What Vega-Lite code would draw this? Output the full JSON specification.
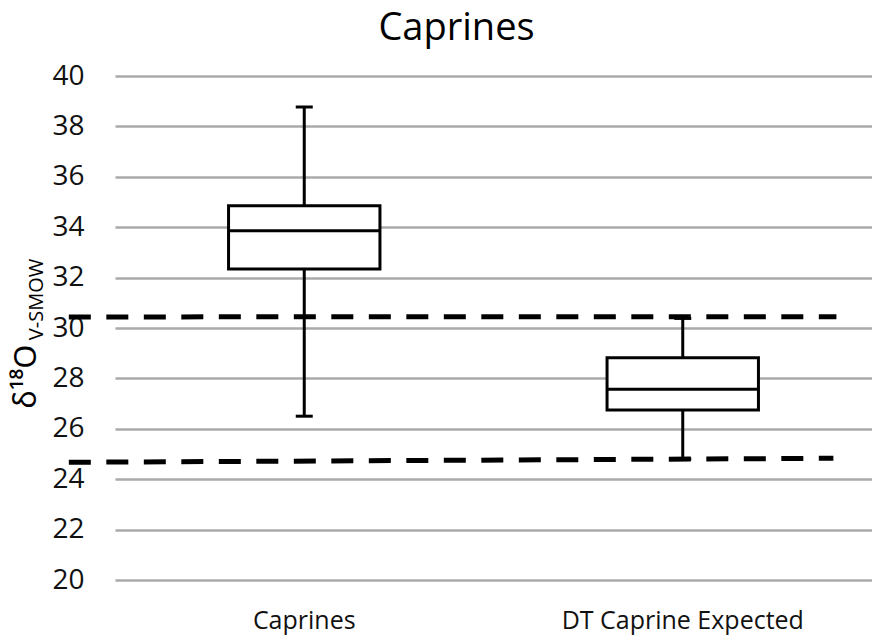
{
  "$schema": "https://vega.github.io/schema/vega-lite/v6.json",
  "autosize": "none",
  "width": 757,
  "height": 504,
  "padding": {"left": 115, "top": 76, "right": 0, "bottom": 57},
  "background": "white",
  "title": {"text": "Caprines", "font": "Open Sans", "fontSize": 38, "fontWeight": "normal", "color": "#000000", "anchor": "middle", "frame": "group", "baseline": "alphabetic", "offset": 36, "dx": -37, "dy": 52},
  "config": {"view": {"stroke": null}, "font": "Open Sans"},
  "layer": [
    {
      "data": {"values": [
        {"group": "Caprines", "lower": 26.5, "q1": 32.34, "median": 33.86, "q3": 34.85, "upper": 38.77},
        {"group": "DT Caprine Expected", "lower": 24.8, "q1": 26.75, "median": 27.57, "q3": 28.82, "upper": 30.38}
      ]},
      "encoding": {
        "x": {"field": "group", "type": "nominal", "sort": null, "scale": {"paddingInner": 0, "paddingOuter": 0},
          "axis": {"title": null, "labelFont": "Open Sans", "labelFontSize": 25, "labelColor": "#111111", "labelAngle": 0, "labelBaseline": "alphabetic", "labelPadding": 48, "labelLimit": 0, "ticks": false, "domain": false, "grid": false}}
      },
      "layer": [
        {"mark": {"type": "rule", "color": "black", "strokeWidth": 3},
         "encoding": {
           "y": {"field": "lower", "type": "quantitative", "title": "δ¹⁸O", "scale": {"domain": [20, 40], "nice": false, "zero": false},
             "axis": {"title": "δ¹⁸O", "titleFont": "Noto Sans", "titleFontSize": 31, "titleFontWeight": "normal", "titleColor": "#000000", "titleAngle": -90, "titleAlign": "center", "titleBaseline": "alphabetic", "titleX": -80, "titleY": 300,
               "values": [20, 22, 24, 26, 28, 30, 32, 34, 36, 38, 40], "labelFont": "Open Sans", "labelFontSize": 28, "labelColor": "#111111", "labelPadding": 31, "ticks": false, "domain": false, "grid": true, "gridColor": "#aaaaaa", "gridWidth": 2.5}},
           "y2": {"field": "upper"}
         }},
        {"mark": {"type": "bar", "fill": "white", "stroke": "black", "strokeWidth": 3, "width": {"band": 0.4}},
         "encoding": {"y": {"field": "q1", "type": "quantitative", "title": "δ¹⁸O"}, "y2": {"field": "q3"}}},
        {"mark": {"type": "tick", "color": "black", "size": 152, "thickness": 3, "opacity": 1},
         "encoding": {"y": {"field": "median", "type": "quantitative", "title": "δ¹⁸O"}}},
        {"mark": {"type": "tick", "color": "black", "size": 17, "thickness": 3, "opacity": 1},
         "encoding": {"y": {"field": "lower", "type": "quantitative", "title": "δ¹⁸O"}}},
        {"mark": {"type": "tick", "color": "black", "size": 17, "thickness": 3, "opacity": 1},
         "encoding": {"y": {"field": "upper", "type": "quantitative", "title": "δ¹⁸O"}}}
      ]
    },
    {
      "data": {"values": [
        {"line": "upper", "x": -0.061, "y": 30.44},
        {"line": "upper", "x": 0.953, "y": 30.45},
        {"line": "lower", "x": -0.061, "y": 24.67},
        {"line": "lower", "x": 0.949, "y": 24.83}
      ]},
      "mark": {"type": "line", "color": "black", "strokeWidth": 5, "strokeDash": [22, 15.5], "clip": false},
      "encoding": {
        "x": {"field": "x", "type": "quantitative", "scale": {"domain": [0, 1], "nice": false, "zero": false}, "axis": null},
        "y": {"field": "y", "type": "quantitative", "scale": {"domain": [20, 40], "nice": false, "zero": false},
          "axis": {"orient": "left", "title": "V-SMOW", "titleFont": "Open Sans", "titleFontSize": 20, "titleFontWeight": "normal", "titleColor": "#000000", "titleAngle": -90, "titleAlign": "center", "titleBaseline": "alphabetic", "titleX": -73, "titleY": 223, "labels": false, "ticks": false, "domain": false, "grid": false}},
        "detail": {"field": "line", "type": "nominal"}
      }
    }
  ],
  "resolve": {"scale": {"x": "independent", "y": "independent"}, "axis": {"y": "independent"}}
}
